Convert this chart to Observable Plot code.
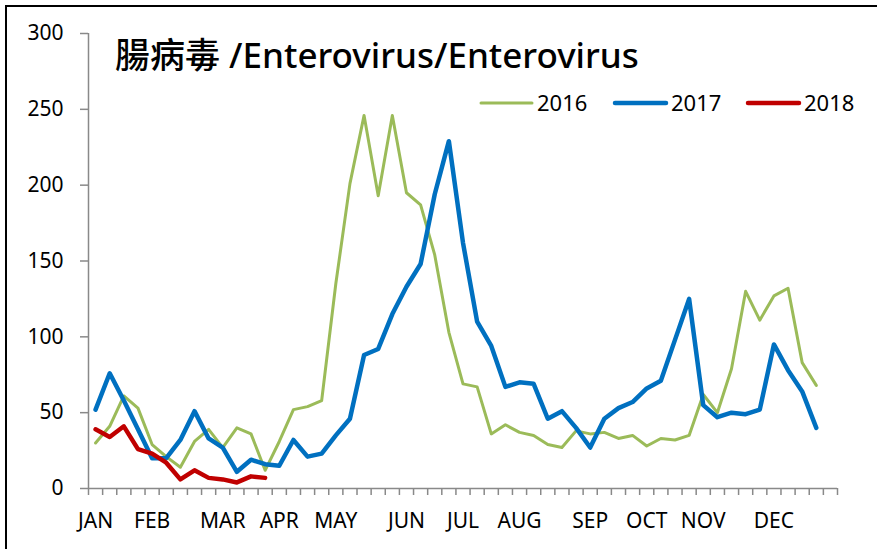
<!DOCTYPE html>
<html>
<head>
<meta charset="utf-8">
<script src="https://cdn.jsdelivr.net/npm/d3@7"></script>
<script src="https://cdn.jsdelivr.net/npm/@observablehq/plot@0.6"></script>
<style>
  html, body { margin: 0; padding: 0; background: #fff; overflow: hidden; }
  #wrap { position: relative; width: 877px; height: 549px; overflow: hidden; background: #fff; }
  #frame { position: absolute; left: 5px; top: 5px; width: 1000px; height: 1000px; border: 2px solid #000; box-sizing: border-box; }
  #chart { position: absolute; left: 0; top: 0; }
  #overlay { position: absolute; left: 0; top: 0; pointer-events: none; }
</style>
</head>
<body>
<div id="wrap">
  <div id="frame"></div>
  <div id="chart"></div>
  <svg id="overlay" width="877" height="549"></svg>
</div>
<script>
// ---- data (weekly counts) ----
const title = "腸病毒 /Enterovirus/Enterovirus";
const seriesNames = ["2016", "2017", "2018"];
const seriesColors = ["#9BBB59", "#0070C0", "#C00000"];
const seriesWidths = [3, 4.5, 4.5];
const nCategories = 53;
const monthLabels = ["JAN","FEB","MAR","APR","MAY","JUN","JUL","AUG","SEP","OCT","NOV","DEC"];
const monthWeeks = [0, 4, 9, 13, 17, 22, 26, 30, 35, 39, 43, 48];
const yTicks = [0, 50, 100, 150, 200, 250, 300];

const values2016 = [30, 41, 61, 53, 29, 21, 14, 31, 39, 27, 40, 36, 12,
  31, 52, 54, 58, 135, 201, 246, 193, 246, 195, 187, 154, 103, 69, 67,
  36, 42, 37, 35, 29, 27, 38, 36, 37, 33, 35,
  28, 33, 32, 35, 62, 50, 79, 130, 111, 127, 132, 83, 68];
const values2017 = [52, 76, 58, 39, 20, 20, 32, 51, 33, 27, 11, 19, 16,
  15, 32, 21, 23, 35, 46, 88, 92, 115, 133, 148, 194, 229,
  162, 110, 94, 67, 70, 69, 46, 51, 40, 27, 46, 53, 57,
  66, 71, 98, 125, 55, 47, 50, 49, 52, 95, 78, 64, 40];
const values2018 = [39, 34, 41, 26, 23, 17, 6, 12, 7, 6, 4, 8, 7];

const allValues = [values2016, values2017, values2018];
const rowsFor = (vals) => vals.map((v, i) => ({week: i, value: v}));

const boundaries = d3.range(nCategories + 1).map(i => i - 0.5);
const axisGray = "#898989";
const font = '"Noto Sans", "Noto Sans CJK TC", sans-serif';

const chart = Plot.plot({
  width: 877,
  height: 549,
  marginLeft: 88,
  marginRight: 40,
  marginTop: 33,
  marginBottom: 61,
  style: {fontFamily: font, fontSize: "21px", color: "#000", background: "transparent", overflow: "visible"},
  x: {type: "linear", domain: [-0.5, nCategories - 0.5]},
  y: {domain: [0, 300]},
  marks: [
    Plot.ruleX([-0.5], {stroke: axisGray, strokeWidth: 1.5}),
    Plot.ruleY([0], {stroke: axisGray, strokeWidth: 1.5}),
    Plot.axisY({ticks: yTicks, tickSize: 8, tickPadding: 17, stroke: axisGray, strokeWidth: 1.5, fill: "#000", label: null}),
    Plot.axisX({ticks: boundaries, tickSize: 7, tickFormat: () => "", stroke: axisGray, strokeWidth: 1.5, label: null}),
    Plot.axisX({ticks: monthWeeks, tickSize: 0, tickPadding: 25, tickFormat: d => monthLabels[monthWeeks.indexOf(d)], fill: "#000", label: null}),
    ...allValues.map((vals, k) => Plot.line(rowsFor(vals), {
      x: "week", y: "value",
      stroke: seriesColors[k], strokeWidth: seriesWidths[k],
      strokeLinejoin: "round", strokeLinecap: "round"
    }))
  ]
});
document.getElementById("chart").appendChild(chart);

// ---- title and legend overlay ----
const ov = d3.select("#overlay");
ov.append("text")
  .attr("x", 115).attr("y", 68)
  .attr("font-family", font).attr("font-size", 35).attr("font-weight", 500).attr("fill", "#000")
  .text(title);

const legendLineX = [481, 615, 748];
const legendY = 103;
seriesNames.forEach((name, k) => {
  ov.append("line")
    .attr("x1", legendLineX[k]).attr("x2", legendLineX[k] + 51)
    .attr("y1", legendY).attr("y2", legendY)
    .attr("stroke", seriesColors[k]).attr("stroke-width", seriesWidths[k])
    .attr("stroke-linecap", "round");
  ov.append("text")
    .attr("x", legendLineX[k] + 56).attr("y", legendY + 8)
    .attr("font-family", font).attr("font-size", 22).attr("fill", "#000")
    .text(name);
});
</script>
</body>
</html>
